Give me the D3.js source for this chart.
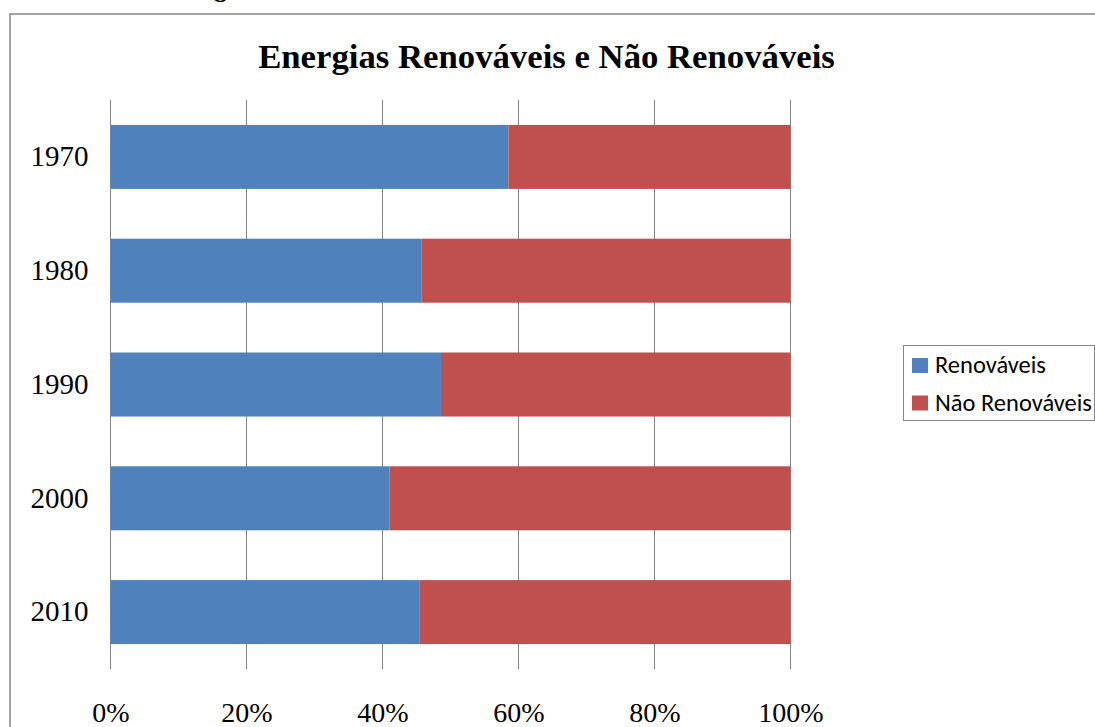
<!DOCTYPE html>
<html>
<head>
<meta charset="utf-8">
<script src="https://cdn.jsdelivr.net/npm/d3@7"></script>
<style>
  html, body { margin: 0; padding: 0; background: #fff; }
  svg { display: block; }
</style>
</head>
<body>
<svg id="chart" width="1095" height="727"></svg>
<script>
const categories = ["1970", "1980", "1990", "2000", "2010"];
const renovaveis = [58.5, 45.7, 48.6, 41.0, 45.4];
const naoRenovaveis = [41.5, 54.3, 51.4, 59.0, 54.6];
const seriesNames = ["Renováveis", "Não Renováveis"];
const seriesColors = ["#4F81BD", "#C0504D"];
const tickValues = [0, 20, 40, 60, 80, 100];
const titleText = "Energias Renováveis e Não Renováveis";

const svg = d3.select("#chart");
const serif = "'Liberation Serif', 'Times New Roman', serif";
const sans = "Carlito, Lato, 'Open Sans', sans-serif";

// partial text from page above (cut off)
svg.append("text").attr("x", 159).attr("y", -3)
  .attr("font-family", serif).attr("font-weight", "bold").attr("font-size", 26)
  .attr("fill", "#000").text("Energias");

// chart frame
svg.append("rect").attr("x", 10).attr("y", 14).attr("width", 1200).attr("height", 800)
  .attr("fill", "none").attr("stroke", "#868686").attr("stroke-width", 1.5);

// title
const title = svg.append("text").attr("x", 546.5).attr("y", 67.5).attr("text-anchor", "middle")
  .attr("font-family", serif).attr("font-weight", "bold").attr("font-size", 32)
  .attr("fill", "#000").text(titleText);
{
  const w = title.node().getComputedTextLength();
  title.attr("font-size", 32 * 577 / w);
}

const x = d3.scaleLinear().domain([0, 100]).range([110.5, 790.5]);
const y = d3.scaleBand().domain(categories).range([100, 669]).paddingInner(0.4375).paddingOuter(0.21875);

// gridlines
svg.append("g").selectAll("line").data(tickValues).join("line")
  .attr("x1", d => x(d)).attr("x2", d => x(d))
  .attr("y1", 100).attr("y2", 669)
  .attr("stroke", "#868686").attr("stroke-width", 1);

// stacked bars
const rows = categories.map((c, i) => ({ cat: c, vals: [renovaveis[i], naoRenovaveis[i]] }));
const gBars = svg.append("g");
rows.forEach(r => {
  let acc = 0;
  r.vals.forEach((v, si) => {
    gBars.append("rect")
      .attr("x", x(acc)).attr("y", y(r.cat))
      .attr("width", x(acc + v) - x(acc)).attr("height", y.bandwidth())
      .attr("fill", seriesColors[si]);
    acc += v;
  });
});

// y axis labels
const yAxis = d3.axisLeft(y).tickSize(0).tickPadding(22);
const gy = svg.append("g").attr("transform", "translate(110.5,0)").call(yAxis);
gy.select(".domain").remove();
gy.selectAll("text").attr("font-family", serif).attr("font-size", 29).attr("fill", "#000")
  .attr("dy", "0.32em");

// x axis labels
const xAxis = d3.axisBottom(x).tickValues(tickValues).tickFormat(d => d + "%").tickSize(0).tickPadding(0);
const gx = svg.append("g").attr("transform", "translate(0,722)").call(xAxis);
gx.select(".domain").remove();
gx.selectAll("text").attr("font-family", serif).attr("font-size", 28).attr("fill", "#000")
  .attr("dy", 0).attr("y", 0);

// legend
const lg = svg.append("g");
lg.append("rect").attr("x", 903.5).attr("y", 345.5).attr("width", 191).attr("height", 75)
  .attr("fill", "#fff").attr("stroke", "#868686").attr("stroke-width", 1);
seriesNames.forEach((n, i) => {
  const cy = 365.5 + i * 37.5;
  lg.append("rect").attr("x", 912).attr("y", cy - 7.5).attr("width", 16).attr("height", 15)
    .attr("fill", seriesColors[i]);
  const t = lg.append("text").attr("x", 935).attr("y", cy + 7.5)
    .attr("font-family", sans).attr("font-size", 20).attr("fill", "#000").text(n);
  if (i === 1) {
    const w = t.node().getComputedTextLength();
    const fs = 20 * 157 / w;
    lg.selectAll("text").attr("font-size", fs);
  }
});
</script>
</body>
</html>
